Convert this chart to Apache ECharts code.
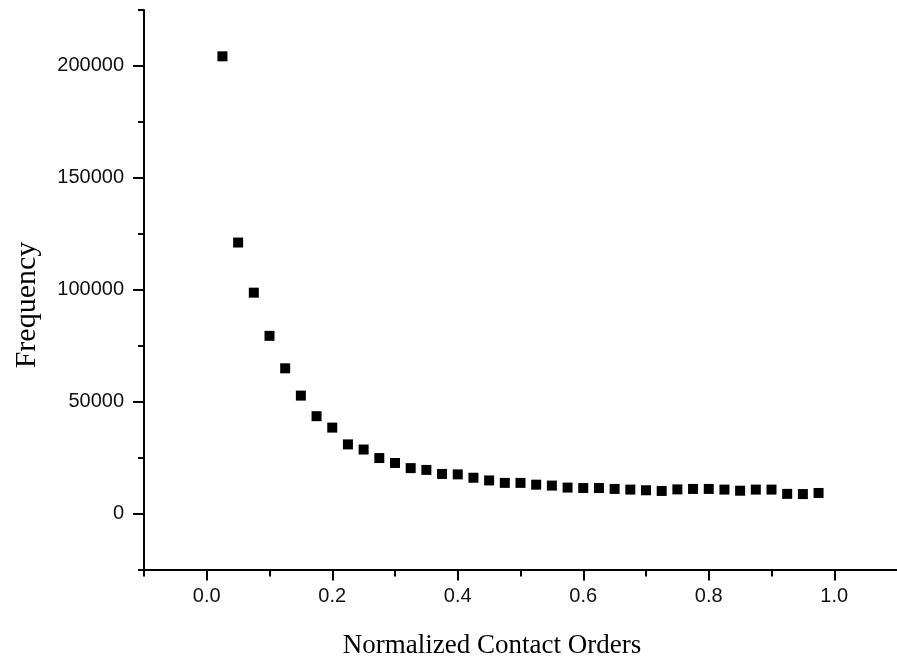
<!DOCTYPE html>
<html>
<head>
<meta charset="utf-8">
<script src="https://cdn.jsdelivr.net/npm/echarts@6/dist/echarts.min.js"></script>
<style>
  html, body { margin: 0; padding: 0; background: #fff; }
  #chart { width: 897px; height: 663px; }
</style>
</head>
<body>
<div id="chart"></div>
<script>
// Normalized contact order bins (bin centres) and their counts
const contactOrders = [
  0.025, 0.05, 0.075, 0.1, 0.125, 0.15, 0.175, 0.2, 0.225, 0.25,
  0.275, 0.3, 0.325, 0.35, 0.375, 0.4, 0.425, 0.45, 0.475, 0.5,
  0.525, 0.55, 0.575, 0.6, 0.625, 0.65, 0.675, 0.7, 0.725, 0.75,
  0.775, 0.8, 0.825, 0.85, 0.875, 0.9, 0.925, 0.95, 0.975
];
const frequencies = [
  204300, 121100, 98700, 79400, 64900, 52700, 43500, 38400, 30900, 28600,
  24800, 22600, 20300, 19500, 17700, 17500, 16000, 14800, 13700, 13700,
  12900, 12500, 11600, 11400, 11400, 11000, 10700, 10400, 10100, 10800,
  11000, 11000, 10700, 10200, 10700, 10700, 8800, 8700, 9200
];

// Axis ticks: labelled majors and unlabelled minors
const xMajorTicks = [0.0, 0.2, 0.4, 0.6, 0.8, 1.0];
const xMinorTicks = [-0.1, 0.1, 0.3, 0.5, 0.7, 0.9];
const yMajorTicks = [0, 50000, 100000, 150000, 200000];
const yMinorTicks = [-25000, 25000, 75000, 125000, 175000, 225000];

const xTitle = 'Normalized Contact Orders';
const yTitle = 'Frequency';

const points = contactOrders.map((x, i) => [x, frequencies[i]]);

const lineStyle = { color: '#000', width: 2 };
const labelFont = { color: '#111', fontFamily: 'Liberation Sans, Arial, sans-serif', fontSize: 20 };

const chart = echarts.init(document.getElementById('chart'), null, { renderer: 'canvas' });

chart.setOption({
  animation: false,
  backgroundColor: '#fff',
  grid: { left: 144, right: -4, top: 10, bottom: 93.5, containLabel: false },
  xAxis: [
    {
      type: 'value', position: 'bottom', min: -0.1, max: 1.1, interval: 0.1,
      axisLine: { show: true, onZero: false, lineStyle: lineStyle },
      axisTick: { show: true, inside: false, length: 11, lineStyle: lineStyle, customValues: xMajorTicks },
      axisLabel: Object.assign({ show: true, margin: 17, customValues: xMajorTicks,
        formatter: v => Number(v).toFixed(1) }, labelFont),
      splitLine: { show: false }
    },
    {
      type: 'value', position: 'bottom', min: -0.1, max: 1.1, interval: 0.1,
      axisLine: { show: false, onZero: false },
      axisTick: { show: true, inside: false, length: 7, lineStyle: lineStyle, customValues: xMinorTicks },
      axisLabel: { show: false },
      splitLine: { show: false }
    }
  ],
  yAxis: [
    {
      type: 'value', position: 'left', min: -25000, max: 225000, interval: 25000,
      axisLine: { show: true, onZero: false, lineStyle: lineStyle },
      axisTick: { show: true, inside: false, length: 11, lineStyle: lineStyle, customValues: yMajorTicks },
      axisLabel: Object.assign({ show: true, margin: 20, customValues: yMajorTicks,
        formatter: v => String(v) }, labelFont),
      splitLine: { show: false }
    },
    {
      type: 'value', position: 'left', min: -25000, max: 225000, interval: 25000,
      axisLine: { show: false, onZero: false },
      axisTick: { show: true, inside: false, length: 6, lineStyle: lineStyle, customValues: yMinorTicks },
      axisLabel: { show: false },
      splitLine: { show: false }
    }
  ],
  graphic: [
    {
      type: 'text', x: 492, y: 646,
      style: { text: xTitle, fill: '#000', font: '27px "Liberation Serif", "Times New Roman", serif',
        textAlign: 'center', textVerticalAlign: 'middle' }
    },
    {
      type: 'text', x: 27, y: 305, rotation: Math.PI / 2,
      style: { text: yTitle, fill: '#000', font: '30px "Liberation Serif", "Times New Roman", serif',
        textAlign: 'center', textVerticalAlign: 'middle' }
    }
  ],
  series: [
    {
      type: 'scatter', xAxisIndex: 0, yAxisIndex: 0,
      symbol: 'rect', symbolSize: 10,
      itemStyle: { color: '#000', opacity: 1 },
      data: points
    }
  ]
});
</script>
</body>
</html>
